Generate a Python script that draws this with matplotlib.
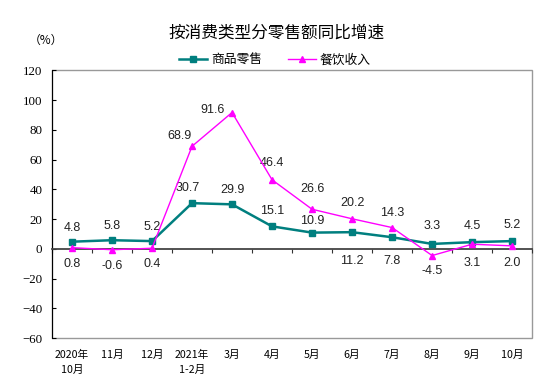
import numpy as np
import matplotlib.pyplot as plt
from matplotlib.patches import Rectangle

plt.rcParams['font.family'] = ['Noto Sans CJK SC', 'DejaVu Sans']

months = ['2020年\n10月', '11月', '12月', '2021年\n1-2月', '3月', '4月', '5月',
          '6月', '7月', '8月', '9月', '10月']
retail = [4.8, 5.8, 5.2, 30.7, 29.9, 15.1, 10.9, 11.2, 7.8, 3.3, 4.5, 5.2]
catering = [0.8, -0.6, 0.4, 68.9, 91.6, 46.4, 26.6, 20.2, 14.3, -4.5, 3.1, 2.0]

# label offsets of the label centre from the point, in pixels (dx, dy)
retail_off = [(0, 14), (0, 14), (0, 14), (-4, 15), (0, 14), (0, 15), (0, 12),
              (0, -29), (0, -24), (0, 18), (0, 16), (0, 16)]
catering_off = [(0, -16), (0, -16), (0, -16), (-13, 10), (-19, 3), (0, 17), (0, 20),
                (0, 16), (0, 15), (0, -15), (0, -19), (0, -17)]

teal = '#007F7F'
pink = '#FF00FF'

fig = plt.figure(figsize=(5.5, 3.86), dpi=100)
ax = fig.add_axes([0.0945, 0.124, 0.873, 0.694])
x = np.arange(len(months))

ax.plot(x, retail, color=teal, lw=1.8, marker='s', ms=5, label='商品零售', zorder=3)
ax.plot(x, catering, color=pink, lw=1.0, marker='^', ms=5, label='餐饮收入', zorder=4)

px = 0.72  # points per pixel at dpi 100
for vals, offs in ((retail, retail_off), (catering, catering_off)):
    for i in range(len(x)):
        dx, dy = offs[i]
        ax.annotate(f'{vals[i]:.1f}', (x[i], vals[i]), xytext=(dx * px, dy * px),
                    textcoords='offset points', ha='center', va='center',
                    fontsize=9, family='Liberation Sans', color='#222222')

ax.set_xlim(-0.5, len(x) - 0.5)
ax.set_ylim(-60, 120)
ax.set_yticks(np.arange(-60, 121, 20))
ax.tick_params(axis='y', direction='in', length=3, labelsize=9.3, pad=7)
for lab in ax.get_yticklabels():
    lab.set_family('Liberation Serif')

# x axis drawn at zero, ticks between categories
ax.spines['bottom'].set_position(('data', 0))
ax.spines['bottom'].set_color('#444444')
ax.spines['bottom'].set_linewidth(1.3)
ax.set_xticks(np.arange(-0.5, len(x), 1))
ax.set_xticklabels([])
ax.tick_params(axis='x', direction='out', length=3, color='#333333')
ax.spines['top'].set_visible(False)
ax.spines['right'].set_visible(False)
ax.spines['left'].set_color('black')
ax.add_patch(Rectangle((0, 0), 1, 1, transform=ax.transAxes, fill=False,
                       edgecolor='#999999', lw=1, clip_on=False, zorder=0))

for i, m in enumerate(months):
    ax.text(i, -0.045, m, transform=ax.get_xaxis_transform(), ha='center', va='top',
            fontsize=7.7, linespacing=1.6, fontweight='medium')

fig.text(0.503, 0.915, '按消费类型分零售额同比增速', ha='center', va='center', fontsize=12)
fig.text(0.083, 0.896, '（%）', ha='center', va='center', fontsize=8.5)
ax.legend(loc='center', bbox_to_anchor=(0.5, 0.845), bbox_transform=fig.transFigure,
          ncol=2, frameon=False, fontsize=9.2, handlelength=2.2, handletextpad=0.3,
          columnspacing=2.0)

fig.savefig('out.png', dpi=100)
